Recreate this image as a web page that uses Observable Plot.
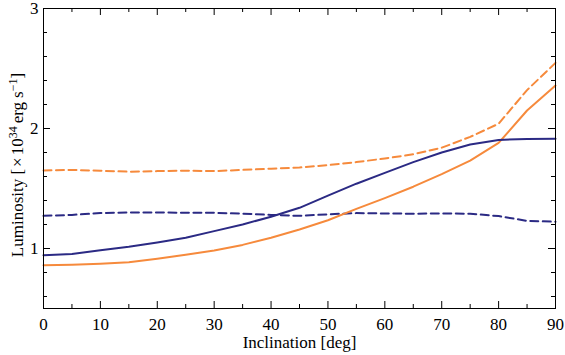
<!DOCTYPE html>
<html><head><meta charset="utf-8">
<script src="https://cdn.jsdelivr.net/npm/d3@7"></script>
<script src="https://cdn.jsdelivr.net/npm/@observablehq/plot@0.6"></script>
<style>body{margin:0;background:#fff}</style>
</head><body><div id="chart"></div>
<script>
const inclination = [0,5,10,15,20,25,30,35,40,45,50,55,60,65,70,75,80,85,90];
const navySolid   = [0.944,0.955,0.985,1.014,1.05,1.09,1.145,1.2,1.265,1.339,1.44,1.54,1.63,1.72,1.80,1.867,1.905,1.912,1.914];
const orangeSolid = [0.861,0.865,0.873,0.886,0.915,0.948,0.983,1.03,1.09,1.158,1.235,1.33,1.42,1.515,1.62,1.733,1.88,2.15,2.358];
const orangeDashed= [1.65,1.655,1.648,1.64,1.645,1.648,1.645,1.655,1.665,1.675,1.695,1.72,1.75,1.785,1.84,1.93,2.04,2.32,2.547];
const navyDashed  = [1.272,1.28,1.295,1.30,1.30,1.298,1.297,1.29,1.28,1.272,1.285,1.295,1.292,1.29,1.292,1.29,1.27,1.23,1.223];
const xMajorTicks = [0,10,20,30,40,50,60,70,80,90];
const xMinorTicks = [5,15,25,35,45,55,65,75,85];
const yMajorTicks = [1,2,3];
const yMinorTicks = [0.6,0.8,1.2,1.4,1.6,1.8,2.2,2.4,2.6,2.8];
const xLabel = "Inclination [deg]";
const navy = "#2b2a84";
const orange = "#f68a3c";

const W = 565, H = 355, mL = 43, mR = 10, mT = 8, mB = 47;
const iW = W - mL - mR, iH = H - mT - mB;
const font = "'Liberation Serif', 'DejaVu Serif', serif";

const toRows = vals => inclination.map((x, i) => ({x, y: vals[i]}));
const lineOpts = (color, dash) => ({x: "x", y: "y", stroke: color, strokeWidth: 2, strokeDasharray: dash, strokeLinejoin: "round"});

const majorLen = 7, minorLen = 4;
const plot = Plot.plot({
  width: W, height: H,
  marginLeft: mL, marginRight: mR, marginTop: mT, marginBottom: mB,
  x: {domain: [0, 90]},
  y: {domain: [0.5, 3]},
  style: {fontFamily: font, fontSize: "17px", color: "black", background: "white"},
  marks: [
    Plot.line(toRows(orangeDashed), lineOpts(orange, "8,4.5")),
    Plot.line(toRows(navyDashed), lineOpts(navy, "8,4.5")),
    Plot.line(toRows(orangeSolid), lineOpts(orange, null)),
    Plot.line(toRows(navySolid), lineOpts(navy, null)),
    Plot.tickX(xMajorTicks, {x: d => d, insetTop: iH - majorLen, stroke: "black"}),
    Plot.tickX(xMajorTicks, {x: d => d, insetBottom: iH - majorLen, stroke: "black"}),
    Plot.tickX(xMinorTicks, {x: d => d, insetTop: iH - minorLen, stroke: "black"}),
    Plot.tickX(xMinorTicks, {x: d => d, insetBottom: iH - minorLen, stroke: "black"}),
    Plot.tickY(yMajorTicks, {y: d => d, insetRight: iW - majorLen, stroke: "black"}),
    Plot.tickY(yMajorTicks, {y: d => d, insetLeft: iW - majorLen, stroke: "black"}),
    Plot.tickY(yMinorTicks, {y: d => d, insetRight: iW - minorLen, stroke: "black"}),
    Plot.tickY(yMinorTicks, {y: d => d, insetLeft: iW - minorLen, stroke: "black"}),
    Plot.axisX(xMajorTicks, {tickSize: 0, tickPadding: 9, label: null, fontSize: 17, tickFormat: d => String(d)}),
    Plot.axisY(yMajorTicks, {tickSize: 0, tickPadding: 5, label: null, fontSize: 17, tickFormat: d => String(d)}),
    Plot.text([xLabel], {text: d => d, frameAnchor: "bottom", dy: 34.5, lineAnchor: "middle", fontSize: 17}),
    Plot.frame({stroke: "black", strokeWidth: 1})
  ]
});
document.getElementById("chart").appendChild(plot);

const svg = d3.select(plot);
const t = svg.append("text")
  .attr("transform", "translate(23,165) rotate(-90)")
  .attr("text-anchor", "middle")
  .attr("fill", "black")
  .style("font-family", font)
  .style("font-size", "17px");
t.append("tspan").text("Luminosity [");
t.append("tspan").attr("dx", 2).text("×");
t.append("tspan").attr("dx", 2).text("10");
t.append("tspan").attr("dy", -6).style("font-size", "12px").text("34");
t.append("tspan").attr("dy", 6).attr("dx", 3).text("erg");
t.append("tspan").attr("dx", 4).text("s");
t.append("tspan").attr("dy", -6).style("font-size", "12px").text("−1");
t.append("tspan").attr("dy", 6).text("]");
</script>
</body></html>
